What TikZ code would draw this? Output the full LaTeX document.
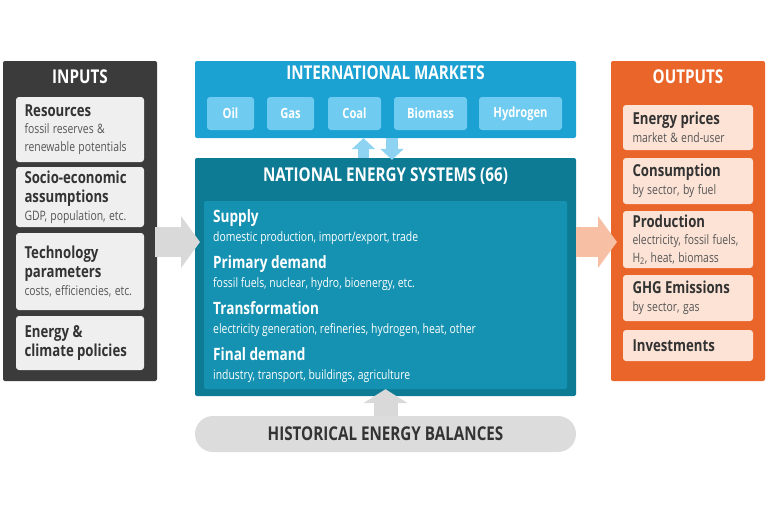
\documentclass[tikz,border=0pt]{standalone}
\usepackage{fontspec}
\setmainfont{Open Sans}[FakeStretch=0.8]
\usetikzlibrary{arrows.meta, positioning}

\definecolor{inpgray}{HTML}{3B3B3B}
\definecolor{inpbox}{HTML}{EFEFEF}
\definecolor{mktblue}{HTML}{1BA1D2}
\definecolor{mktitem}{HTML}{6FCBEF}
\definecolor{nesdark}{HTML}{0E7B95}
\definecolor{nesinner}{HTML}{1592B1}
\definecolor{outorange}{HTML}{E9652A}
\definecolor{outbox}{HTML}{FCE3D5}
\definecolor{arrgray}{HTML}{D9D9D9}
\definecolor{arrorange}{HTML}{F7BFA3}
\definecolor{arrblue}{HTML}{8ED4F2}
\definecolor{pillgray}{HTML}{DCDCDC}
\definecolor{txtdark}{HTML}{333333}
\definecolor{txtsub}{HTML}{555555}

\newcommand{\headfont}{\fontsize{16.5}{19.5}\selectfont\bfseries}
\newcommand{\subfont}{\fontsize{13}{17.5}\selectfont\mdseries\color{txtsub}}

\begin{document}
\begin{tikzpicture}[
  x=1pt, y=-1pt,
  panel/.style={rectangle, rounded corners=2pt, inner sep=0pt},
  paneltitle/.style={font=\fontsize{19}{22}\selectfont\bfseries, text=white},
  inbox/.style={rectangle, rounded corners=3pt, fill=inpbox, minimum width=128pt,
                text width=111pt, inner xsep=8.5pt, inner ysep=2pt, align=left, text=txtdark},
  outbox/.style={rectangle, rounded corners=3pt, fill=outbox, minimum width=130pt,
                 text width=111pt, inner xsep=9.5pt, inner ysep=2pt, align=left, text=txtdark},
  fuel/.style={rectangle, rounded corners=3pt, fill=mktitem, minimum height=33pt,
               inner sep=0pt, text=white, font=\fontsize{14}{16}\selectfont\bfseries},
  step title/.style={anchor=base west, inner sep=0pt, text=white,
                     font=\fontsize{17}{19}\selectfont\bfseries},
  step sub/.style={anchor=base west, inner sep=0pt, text=white, font=\fontsize{13}{15}\selectfont},
  bigarr/.style={-{Triangle[length=19pt, width=51pt]}, line width=30pt},
  smallarr/.style={-{Triangle[length=11pt, width=23pt]}, line width=11pt, arrblue}
]
  \useasboundingbox (0,0) rectangle (768,512);

  % Inputs column
  \node[panel, fill=inpgray, minimum width=154pt, minimum height=320pt] (inputs) at (80,221) {};
  \node[paneltitle] (inputs-t) at (80,77) {INPUTS};
  \node[inbox, minimum height=65pt] (resources) at (80,129.5)
    {{\headfont Resources\par}{\subfont fossil reserves \&\\renewable potentials\par}};
  \node[inbox, minimum height=60pt] (socio) at (80,197)
    {{\headfont Socio-economic\\assumptions\par}{\subfont GDP, population, etc.\par}};
  \node[inbox, minimum height=77pt] (techno) at (80,271.5)
    {{\headfont Technology\\parameters\par}{\subfont costs, efficiencies, etc.\par}};
  \node[inbox, minimum height=54pt] (policies) at (80,343)
    {{\headfont Energy \&\\climate policies\par}};

  % International markets
  \node[panel, fill=mktblue, minimum width=381pt, minimum height=77pt] (markets) at (385.5,99.5) {};
  \node[paneltitle] (markets-t) at (385.5,73) {INTERNATIONAL MARKETS};
  \node[fuel, minimum width=47pt] (oil)      at (230.5,113.5) {Oil};
  \node[fuel, minimum width=47pt] (gas)      at (290.5,113.5) {Gas};
  \node[fuel, minimum width=53pt] (coal)     at (354.5,113.5) {Coal};
  \node[fuel, minimum width=73pt] (biomass)  at (430.5,113.5) {Biomass};
  \node[fuel, minimum width=83pt] (hydrogen) at (520.5,113.5) {Hydrogen};

  % National energy systems
  \node[panel, fill=nesdark, minimum width=381pt, minimum height=238pt] (nes) at (385.5,277) {};
  \node[paneltitle] (nes-t) at (385.5,176) {NATIONAL ENERGY SYSTEMS (66)};
  \node[panel, fill=nesinner, minimum width=363pt, minimum height=188pt] (nes-in) at (385.5,295) {};
  \foreach \name/\y/\ttl/\sub in {
      supply/222/Supply/{domestic production, import/export, trade},
      primary/268/Primary demand/{fossil fuels, nuclear, hydro, bioenergy, etc.},
      transf/314/Transformation/{electricity generation, refineries, hydrogen, heat, other},
      final/360/Final demand/{industry, transport, buildings, agriculture}} {
    \node[step title] (\name-t) at (213,\y) {\ttl};
    \node[step sub]   (\name-s) at (213,\y+19) {\sub};
  }

  % Outputs column
  \node[panel, fill=outorange, minimum width=154pt, minimum height=320pt] (outputs) at (688,221) {};
  \node[paneltitle] (outputs-t) at (688,77) {OUTPUTS};
  \node[outbox, minimum height=45pt] (prices) at (688,127.5)
    {{\headfont Energy prices\par}{\subfont market \& end-user\par}};
  \node[outbox, minimum height=46pt] (consumption) at (688,181)
    {{\headfont Consumption\par}{\subfont by sector, by fuel\par}};
  \node[outbox, minimum height=57pt] (production) at (688,239.5)
    {{\headfont Production\par}{\subfont electricity, fossil fuels,\\H\textsubscript{2}, heat, biomass\par}};
  \node[outbox, minimum height=46pt] (ghg) at (688,298)
    {{\headfont GHG Emissions\par}{\subfont by sector, gas\par}};
  \node[outbox, minimum height=31pt] (invest) at (688,345.5)
    {{\headfont Investments\par}};

  % Historical balances
  \node[rectangle, rounded corners=18pt, fill=pillgray, minimum width=381pt, minimum height=36pt,
        text=txtdark, font=\fontsize{19}{22}\selectfont\bfseries] (history) at (385.5,434)
    {HISTORICAL ENERGY BALANCES};

  % Arrows
  \coordinate (in-tip)  at (200,242);
  \coordinate (out-tip) at (617,242);
  \draw[bigarr, arrgray] ([xshift=-2pt]inputs.east |- in-tip) -- (in-tip);
  \draw[bigarr, arrorange] (nes.east |- out-tip) -- (out-tip);
  \draw[smallarr] ([xshift=-22pt]nes.north) -- ([xshift=-22pt]markets.south);
  \draw[smallarr, line width=12pt] ([xshift=6.5pt]markets.south) -- ([xshift=6.5pt, yshift=-2pt]nes.north);
  \draw[-{Triangle[length=14pt, width=44pt]}, line width=24pt, arrgray]
    (history.north) -- ([yshift=7pt]nes.south);
\end{tikzpicture}
\end{document}
